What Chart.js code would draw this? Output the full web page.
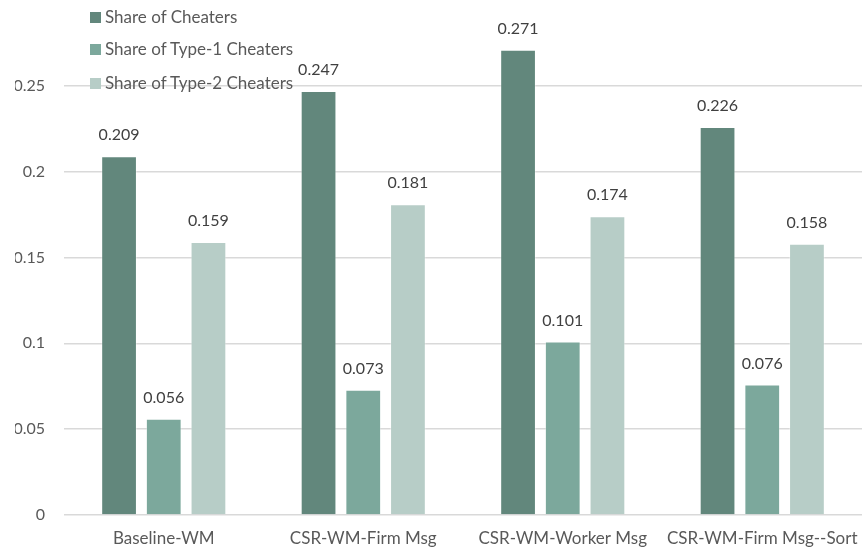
<!DOCTYPE html>
<html>
<head>
<meta charset="utf-8">
<script src="https://cdn.jsdelivr.net/npm/chart.js@4/dist/chart.umd.min.js"></script>
<style>
  html, body { margin: 0; padding: 0; background: #fff; }
  #wrap { position: relative; width: 864px; height: 551px; overflow: hidden; }
  #holder { position: absolute; left: -16px; top: 0; width: 880px; height: 551px; }
  #edge { position: absolute; left: 0; top: 0; width: 15px; height: 551px; background: #fff; }
  #legend { position: absolute; left: 90px; top: 0; font: 17px Lato, sans-serif; color: #595959; }
  .item { position: absolute; left: 0; white-space: nowrap; height: 20px; line-height: 20px; }
  .sw { position: absolute; left: 0; top: 5px; width: 11px; height: 11px; }
  .tx { position: absolute; left: 15px; top: 0; }
</style>
</head>
<body>
<div id="wrap">
  <div id="holder"><canvas id="c" width="880" height="551"></canvas></div>
  <div id="edge"></div>
  <div id="legend"></div>
</div>
<script>
const categories = ['Baseline-WM', 'CSR-WM-Firm Msg', 'CSR-WM-Worker Msg', 'CSR-WM-Firm Msg--Sort'];
const seriesNames = ['Share of Cheaters', 'Share of Type-1 Cheaters', 'Share of Type-2 Cheaters'];
const shareCheaters = [0.209, 0.247, 0.271, 0.226];
const shareType1 = [0.056, 0.073, 0.101, 0.076];
const shareType2 = [0.159, 0.181, 0.174, 0.158];
const yTicks = [0, 0.05, 0.1, 0.15, 0.2, 0.25];
const colors = ['#62877c', '#7ca89c', '#b7cdc7'];

const FONT = 'Lato, sans-serif';
const values = [shareCheaters, shareType1, shareType2];

// HTML legend, stacked vertically over the top-left of the plot
const legendTops = [7, 39, 73];
const legendEl = document.getElementById('legend');
seriesNames.forEach((name, i) => {
  const it = document.createElement('div');
  it.className = 'item';
  it.style.top = legendTops[i] + 'px';
  it.innerHTML = '<span class="sw" style="background:' + colors[i] + '"></span><span class="tx"></span>';
  it.querySelector('.tx').textContent = name;
  legendEl.appendChild(it);
});

// Value labels printed above each bar
const valueLabels = {
  id: 'valueLabels',
  afterDatasetsDraw(chart) {
    const ctx = chart.ctx;
    ctx.save();
    ctx.font = '16px ' + FONT;
    ctx.fillStyle = '#404040';
    ctx.textAlign = 'center';
    ctx.textBaseline = 'alphabetic';
    chart.data.datasets.forEach((ds, di) => {
      chart.getDatasetMeta(di).data.forEach((bar, i) => {
        ctx.fillText(ds.data[i].toFixed(3), bar.x, bar.y - 16);
      });
    });
    ctx.restore();
  }
};

// The plot area runs up to the top edge of the canvas
const fullHeight = {
  id: 'fullHeight',
  afterLayout(chart) {
    const area = chart.chartArea;
    const y = chart.scales.y;
    if (area.top !== 0) {
      area.top = 0;
      area.height = area.bottom;
      y.top = 0;
      y.height = area.bottom;
      y.configure();
    }
  }
};

new Chart(document.getElementById('c'), {
  type: 'bar',
  data: {
    labels: categories,
    datasets: seriesNames.map((name, i) => ({
      label: name,
      data: values[i],
      backgroundColor: colors[i],
      borderColor: 'rgba(255,255,255,0.35)',
      borderWidth: 1,
      categoryPercentage: 0.672,
      barPercentage: 0.8
    }))
  },
  options: {
    responsive: false,
    animation: false,
    layout: { autoPadding: false, padding: { top: 0, right: 2, bottom: 0, left: 0 } },
    plugins: { legend: { display: false }, tooltip: { enabled: false } },
    scales: {
      x: {
        grid: { display: false },
        border: { display: false },
        ticks: { color: '#595959', font: { family: FONT, size: 17 }, padding: 5, maxRotation: 0, autoSkip: false },
        afterFit(s) { s.height = 36; }
      },
      y: {
        min: 0,
        max: 0.3,
        border: { display: false },
        grid: {
          color: (c) => (c.tick && c.tick.value > 0.26 ? 'rgba(0,0,0,0)' : '#d9d9d9'),
          lineWidth: 1.5,
          drawTicks: false
        },
        afterBuildTicks(s) { s.ticks = yTicks.concat([0.3]).map(v => ({ value: v })); },
        ticks: {
          color: '#595959',
          font: { family: FONT, size: 16 },
          padding: 19,
          callback: (v) => (yTicks.includes(v) ? String(v) : '')
        },
        afterFit(s) { s.width = 80; }
      }
    }
  },
  plugins: [valueLabels, fullHeight]
});
</script>
</body>
</html>
